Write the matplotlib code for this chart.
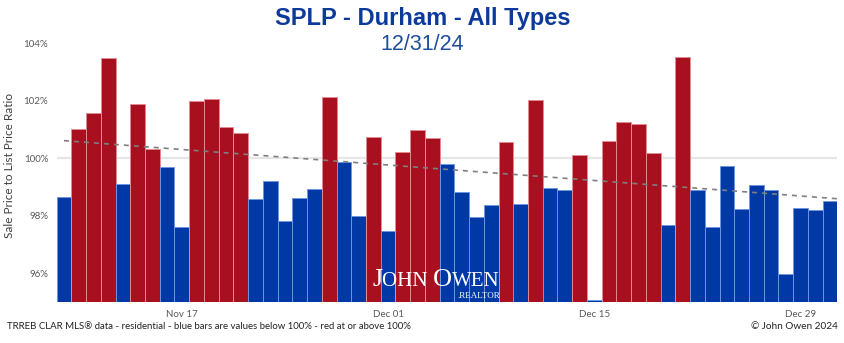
import numpy as np
import pandas as pd
import matplotlib
matplotlib.use('Agg')
import matplotlib.pyplot as plt
import matplotlib.dates as mdates
from matplotlib.transforms import offset_copy

# daily sale-to-list price ratio (%), Nov 09 .. Dec 31 2024
start_date = '2024-11-09'
end_date = '2024-12-31'
ratio = [98.64, 101.01, 101.58, 103.47, 99.10, 101.87, 100.32, 99.71, 97.61, 101.98,
         102.06, 101.07, 100.89, 98.57, 99.20, 97.82, 98.63, 98.91, 102.13, 99.87,
         97.99, 100.73, 97.47, 100.21, 100.99, 100.71, 99.81, 98.83, 97.96, 98.36,
         100.57, 98.40, 102.02, 98.96, 98.89, 100.11, 95.05, 100.59, 101.27, 101.19,
         100.17, 97.69, 103.51, 98.89, 97.59, 99.73, 98.23, 99.06, 98.89, 95.98,
         98.26, 98.19, 98.51]
tick_dates = ['2024-11-17', '2024-12-01', '2024-12-15', '2024-12-29']
y_ticks = [96, 98, 100, 102, 104]

RED = '#A8101F'
BLUE = '#0039A6'
TITLE_BLUE = '#0B3A9B'
DATE_BLUE = '#1F4E9C'
SMALL_FONT = ['Lato', 'DejaVu Sans']

dates = pd.date_range(start_date, end_date)
x = mdates.date2num(dates)
vals = np.array(ratio)
colors = [RED if v >= 100 else BLUE for v in vals]
edges = ['#E38A95' if v >= 100 else '#6F95E0' for v in vals]

fig = plt.figure(figsize=(8.45, 3.43), dpi=100)
ax = fig.add_axes([0.067, 0.120, 0.924, 0.7925])

ymin = 95
ax.axhline(100, color='#E6E6E6', lw=1.6, zorder=0)
ax.bar(x, vals - ymin, bottom=ymin, width=1.0, color=colors,
       edgecolor=edges, linewidth=0.7, zorder=2)

# linear trend, drawn out to the right edge
coef = np.polyfit(x, vals, 1)
xt = np.array([x[0], x[-1] + 0.5])
ax.plot(xt, np.polyval(coef, xt), linestyle=(0, (3, 3)), color='#7F7F7F', lw=1.2, zorder=3)

ax.set_xlim(x[0] - 0.5, x[-1] + 0.5)
ax.set_ylim(ymin, 104.46)
ax.set_yticks(y_ticks)
ax.set_yticklabels(['{}%'.format(t) for t in y_ticks])
ax.set_xticks(mdates.date2num(pd.to_datetime(tick_dates)))
ax.xaxis.set_major_formatter(mdates.DateFormatter('%b %d'))
ax.tick_params(length=0, labelsize=7, colors='#595959', pad=6)
for lbl in ax.get_xticklabels() + ax.get_yticklabels():
    lbl.set_family(SMALL_FONT)
for s in ax.spines.values():
    s.set_visible(False)
ax.set_ylabel('Sale Price to List Price Ratio', fontsize=8.5, color='#404040', family=SMALL_FONT)
ax.yaxis.set_label_coords(-0.053, 0.5)

fig.text(0.5, 0.945, 'SPLP - Durham - All Types', ha='center', va='center',
         fontsize=17, fontweight='bold', color=TITLE_BLUE, family='Liberation Sans')
fig.text(0.5, 0.87, '12/31/24', ha='center', va='center',
         fontsize=15.5, color=DATE_BLUE, family='Liberation Sans')

fig.text(0.008, 0.048, 'TRREB CLAR MLS\u00ae data - residential - blue bars are values below 100% - red at or above 100%',
         ha='left', va='center', fontsize=6.95, color='#222222', family=SMALL_FONT)
fig.text(0.992, 0.048, '\u00a9 John Owen 2024', ha='right', va='center', fontsize=7.2,
         color='#222222', family=SMALL_FONT)

# watermark in small caps
renderer = fig.canvas.get_renderer()
pieces = [('J', 19), ('OHN ', 15), ('O', 19), ('WEN', 15)]
trans = ax.transAxes
x0, y0 = 0.404, 0.058
texts = []
for s, size in pieces:
    t = ax.text(x0, y0, s, transform=trans, ha='left', va='baseline',
                fontsize=size, color='white', family='Liberation Serif', zorder=5)
    w = t.get_window_extent(renderer).width
    trans = offset_copy(trans, fig=fig, x=w, y=0, units='dots')
    texts.append(t)
right = texts[-1].get_window_extent(renderer).x1
xr, _ = ax.transAxes.inverted().transform((right, 0))
ax.text(xr, 0.014, '.REALTOR', transform=ax.transAxes, ha='right', va='baseline',
        fontsize=6.5, color='white', family='Liberation Serif', zorder=5)

fig.savefig('out.png', dpi=100)
